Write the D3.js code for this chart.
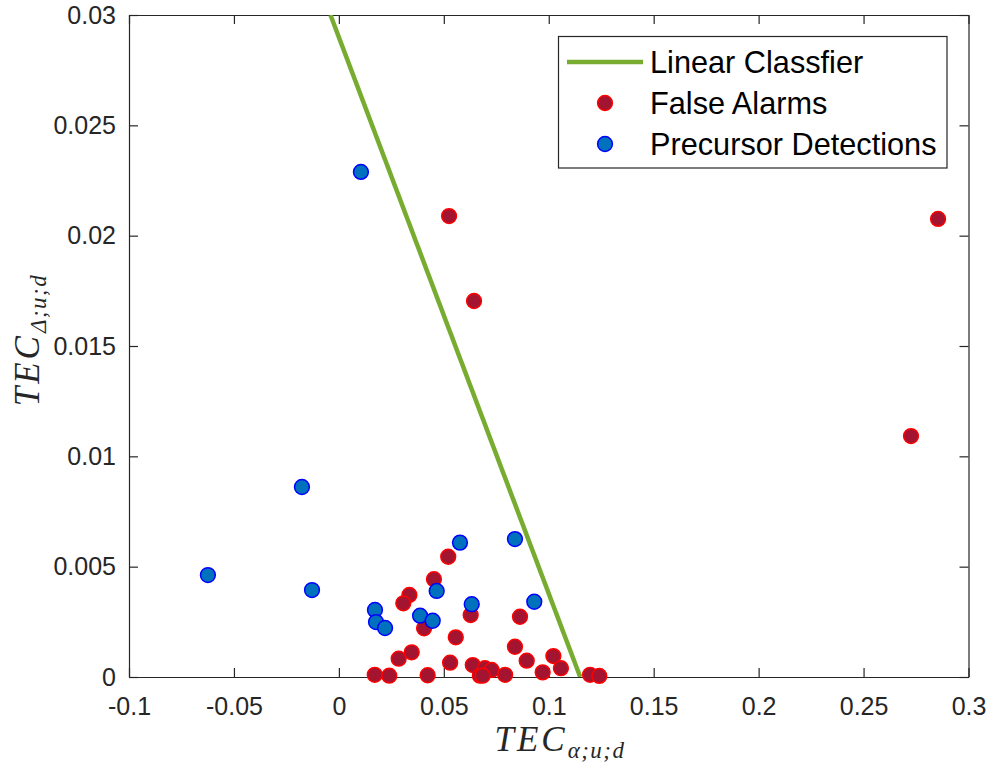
<!DOCTYPE html>
<html>
<head>
<meta charset="utf-8">
<title>TEC scatter</title>
<script src="https://cdn.jsdelivr.net/npm/d3@7"></script>
<style>
  body { margin: 0; background: #fff; }
  .tick text { font-family: "Liberation Sans", Arial, Helvetica, sans-serif; font-size: 25px; fill: #262626; }
  .axis path, .axis line { stroke: #262626; }
  .legend text { font-family: "Liberation Sans", Arial, Helvetica, sans-serif; font-size: 30.7px; fill: #000; }
  .label { font-family: "Liberation Serif", "DejaVu Serif", serif; font-style: italic; fill: #262626; }
</style>
</head>
<body>
<script>
// data
var falseAlarmX = [0.0525, 0.0644, 0.2855, 0.2726, 0.0521, 0.0453, 0.0336, 0.0307, 0.0406, 0.0628,
                   0.0557, 0.0347, 0.0285, 0.0171, 0.0240, 0.0423, 0.0530, 0.0638, 0.0672, 0.0696,
                   0.0728, 0.0685, 0.0792, 0.0863, 0.0839, 0.0895, 0.0971, 0.1022, 0.1058, 0.1197, 0.1241];
var falseAlarmY = [0.02089, 0.01704, 0.02076, 0.01092, 0.00545, 0.00443, 0.00372, 0.00334, 0.00221, 0.00281,
                   0.00180, 0.00112, 0.00083, 0.00010, 0.00006, 0.00008, 0.00065, 0.00054, 0.00006, 0.00040,
                   0.00032, 0.00006, 0.00010, 0.00273, 0.00137, 0.00074, 0.00021, 0.00095, 0.00040, 0.00010, 0.00005];
var detectionX = [0.0105, -0.0176, -0.0624, -0.0128, 0.0172, 0.0177, 0.0220, 0.0387, 0.0447, 0.0466,
                  0.0577, 0.0633, 0.0839, 0.0931];
var detectionY = [0.02289, 0.00861, 0.00462, 0.00394, 0.00304, 0.00249, 0.00222, 0.00278, 0.00255, 0.00390,
                  0.00609, 0.00330, 0.00625, 0.00341];
var classifierX = [-0.0040, 0.1150];
var classifierY = [0.03, 0];
var xTicks = [-0.1, -0.05, 0, 0.05, 0.1, 0.15, 0.2, 0.25, 0.3];
var yTicks = [0, 0.005, 0.01, 0.015, 0.02, 0.025, 0.03];
var legendNames = ["Linear Classfier", "False Alarms", "Precursor Detections"];

var width = 991, height = 762;
var m = { left: 129, right: 968.5, top: 15, bottom: 677 };

var svg = d3.select("body").append("svg")
    .attr("width", width)
    .attr("height", height);

svg.append("rect").attr("width", width).attr("height", height).attr("fill", "#fff");

var x = d3.scaleLinear().domain([-0.1, 0.3]).range([m.left, m.right]);
var y = d3.scaleLinear().domain([0, 0.03]).range([m.bottom, m.top]);

function fmt(d) { return d === 0 ? "0" : String(d); }

// axes (ticks pointing inward, box on)
svg.append("g").attr("class", "axis")
    .attr("transform", "translate(0," + m.bottom + ")")
    .call(d3.axisBottom(x).tickValues(xTicks).tickFormat(fmt).tickSizeInner(-9).tickSizeOuter(0).tickPadding(20));
svg.append("g").attr("class", "axis")
    .attr("transform", "translate(0," + m.top + ")")
    .call(d3.axisTop(x).tickValues(xTicks).tickFormat("").tickSizeInner(-9).tickSizeOuter(0));
svg.append("g").attr("class", "axis")
    .attr("transform", "translate(" + m.left + ",0)")
    .call(d3.axisLeft(y).tickValues(yTicks).tickFormat(fmt).tickSizeInner(-9).tickSizeOuter(0).tickPadding(13));
svg.append("g").attr("class", "axis")
    .attr("transform", "translate(" + m.right + ",0)")
    .call(d3.axisRight(y).tickValues(yTicks).tickFormat("").tickSizeInner(-9).tickSizeOuter(0));

svg.selectAll(".axis path").attr("stroke-width", 1.2);
svg.selectAll(".axis line").attr("stroke-width", 1.2);
svg.selectAll(".axis .tick text").attr("fill", "#262626");

// axis labels
var xl = svg.append("text").attr("class", "label")
    .attr("x", 560).attr("y", 751).attr("text-anchor", "middle");
xl.append("tspan").attr("font-size", 35).attr("letter-spacing", 3).text("TEC");
xl.append("tspan").attr("font-size", 23).attr("dy", 7).attr("letter-spacing", 1.5).text("α;u;d");

var yl = svg.append("text").attr("class", "label")
    .attr("transform", "translate(39,340) rotate(-90)")
    .attr("text-anchor", "middle");
yl.append("tspan").attr("font-size", 35).attr("letter-spacing", 3).text("TEC");
yl.append("tspan").attr("font-size", 23).attr("dy", 7).attr("letter-spacing", 1.5).text("Δ;u;d");

// classifier line
svg.append("defs").append("clipPath").attr("id", "plot")
    .append("rect").attr("x", m.left).attr("y", m.top)
    .attr("width", m.right - m.left).attr("height", m.bottom - m.top);

var line = d3.line().x(function (d) { return x(d[0]); }).y(function (d) { return y(d[1]); });
svg.append("path")
    .datum(d3.zip(classifierX, classifierY))
    .attr("clip-path", "url(#plot)")
    .attr("d", line)
    .attr("fill", "none")
    .attr("stroke", "#77AC30")
    .attr("stroke-width", 4.5);

// points
svg.append("g").selectAll("circle")
    .data(d3.zip(falseAlarmX, falseAlarmY))
    .enter().append("circle")
    .attr("cx", function (d) { return x(d[0]); })
    .attr("cy", function (d) { return y(d[1]); })
    .attr("r", 7.4)
    .attr("fill", "#A2142F")
    .attr("stroke", "#FF0000")
    .attr("stroke-width", 1.5);

svg.append("g").selectAll("circle")
    .data(d3.zip(detectionX, detectionY))
    .enter().append("circle")
    .attr("cx", function (d) { return x(d[0]); })
    .attr("cy", function (d) { return y(d[1]); })
    .attr("r", 7.4)
    .attr("fill", "#0072BD")
    .attr("stroke", "#0000FF")
    .attr("stroke-width", 1.5);

// legend
var lg = svg.append("g").attr("class", "legend");
lg.append("rect")
    .attr("x", 558.5).attr("y", 36.5).attr("width", 388.5).attr("height", 131.5)
    .attr("fill", "#fff").attr("stroke", "#262626").attr("stroke-width", 1.2);
var rowY = [62, 103, 144];
lg.append("line")
    .attr("x1", 567).attr("x2", 643).attr("y1", rowY[0]).attr("y2", rowY[0])
    .attr("stroke", "#77AC30").attr("stroke-width", 4.5);
lg.append("circle").attr("cx", 605).attr("cy", rowY[1]).attr("r", 7.4)
    .attr("fill", "#A2142F").attr("stroke", "#FF0000").attr("stroke-width", 1.5);
lg.append("circle").attr("cx", 605).attr("cy", rowY[2]).attr("r", 7.4)
    .attr("fill", "#0072BD").attr("stroke", "#0000FF").attr("stroke-width", 1.5);
lg.selectAll("text.name")
    .data(legendNames)
    .enter().append("text")
    .attr("class", "name")
    .attr("x", 650)
    .attr("y", function (d, i) { return rowY[i] + 11; })
    .text(function (d) { return d; });
</script>
</body>
</html>
